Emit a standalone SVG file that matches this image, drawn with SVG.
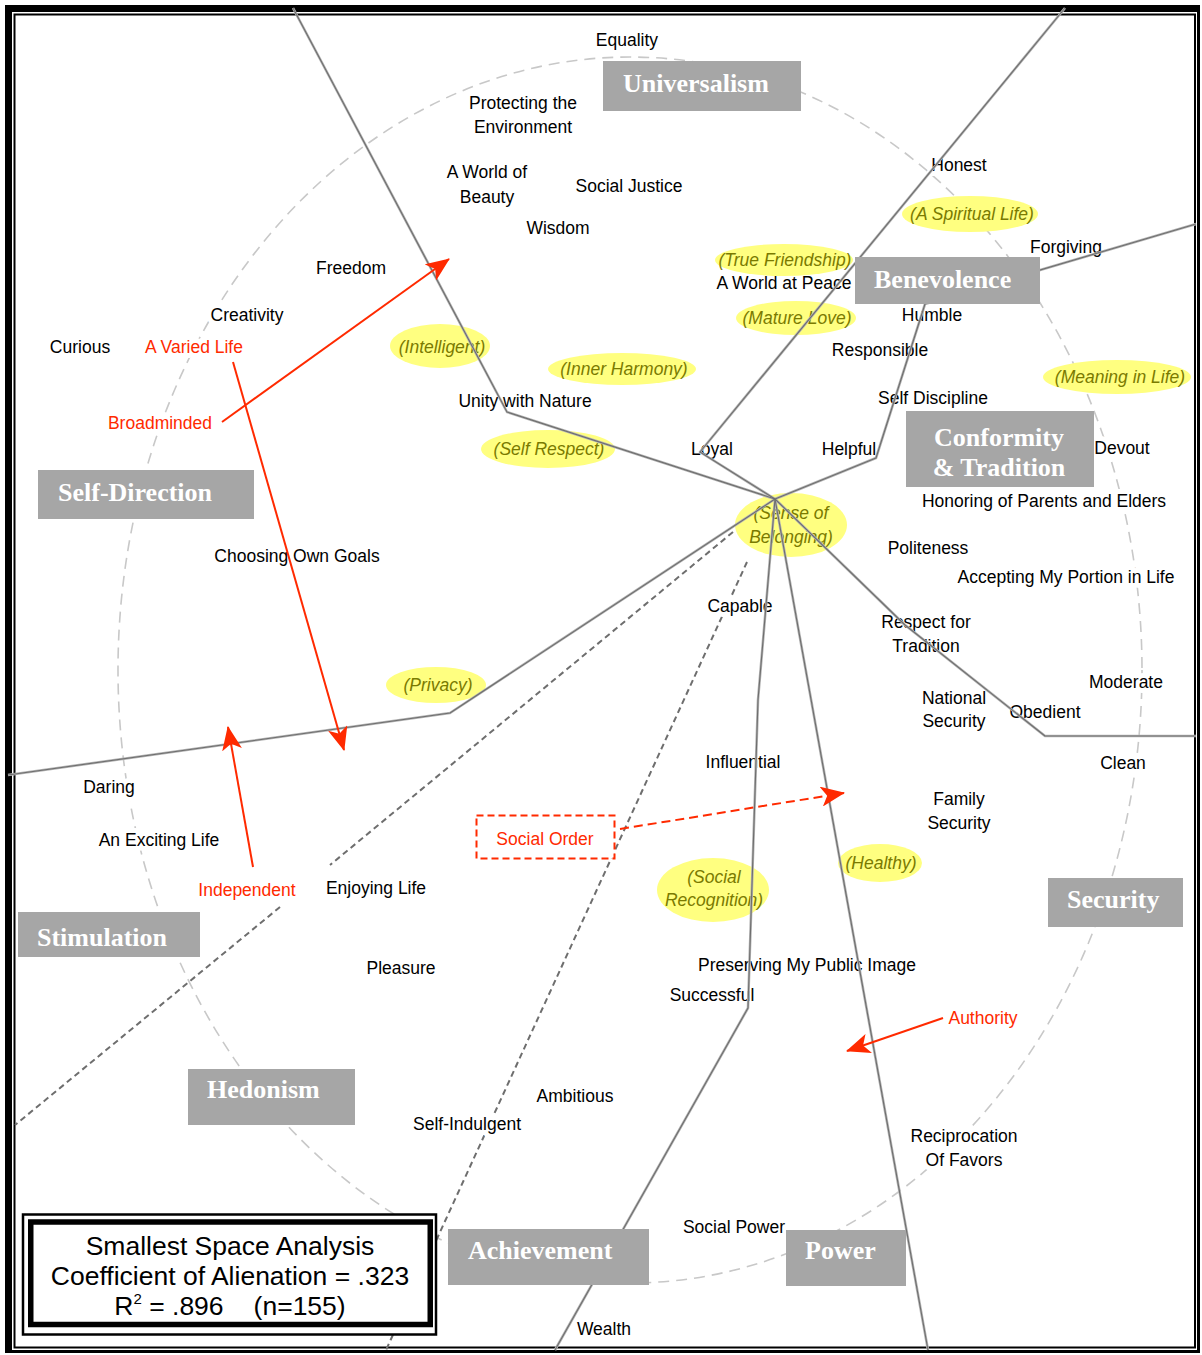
<svg xmlns="http://www.w3.org/2000/svg" width="1202" height="1355" viewBox="0 0 1202 1355">
  <style>
    .lbl { font-family: "Liberation Sans", Arial, sans-serif; font-size: 17.5px; fill: #000; text-anchor: middle; stroke: #fff; stroke-width: 10px; stroke-linejoin: round; paint-order: stroke; }
    .red { fill: #ff2a00; }
    .cat rect { fill: #a6a6a6; }
    .cat text { font-family: "Liberation Serif", "Times New Roman", serif; font-weight: bold; font-size: 26px; fill: #fff; }
    .val ellipse { fill: #ffff80; }
    .val text { font-family: "Liberation Sans", Arial, sans-serif; font-size: 17.5px; font-style: italic; fill: #7a7a00; text-anchor: middle; }
    .part { fill: none; stroke: #b4b4b4; stroke-width: 2.6; stroke-linejoin: round; }
    .part-core { fill: none; stroke: #6e6e6e; stroke-width: 1.1; stroke-linejoin: round; }
    .dpart { fill: none; stroke: #6e6e6e; stroke-width: 2; stroke-dasharray: 6 4; }
    .arrow { fill: none; stroke: #ff2a00; stroke-width: 2; }
    .stats { font-family: "Liberation Sans", Arial, sans-serif; font-size: 26.5px; fill: #000; text-anchor: middle; }
  </style>
  <defs>
    <marker id="head" viewBox="0 0 24 20" markerWidth="24" markerHeight="20" refX="23" refY="10" orient="auto" markerUnits="userSpaceOnUse">
      <path d="M0,0 L24,10 L0,20 L6,10 z" fill="#ff2a00"/>
    </marker>
    <!-- partition line geometry, drawn twice for a shaded edge -->
    <path id="pA" d="M293,8 L507,412 L775,499"/>
    <path id="pB" d="M1065,8 L700,452 L775,499"/>
    <path id="pC" d="M1196,224 L925,304 L876,458 L775,499"/>
    <path id="pD" d="M775,499 L905,625 L1045,736 L1196,736"/>
    <path id="pE" d="M775,499 L928,1350"/>
    <path id="pF" d="M775,499 L758,700 L748,1008 L555,1350"/>
    <path id="pG" d="M775,499 L450,713 L8,775"/>
  </defs>

  <rect x="0" y="0" width="1202" height="1355" fill="#fff"/>

  <!-- frame -->
  <g id="frame">
    <rect x="5" y="5" width="1195" height="7" fill="#000"/>
    <rect x="5" y="5" width="7" height="1348" fill="#000"/>
    <rect x="1197" y="5" width="3" height="1348" fill="#000"/>
    <rect x="5" y="1350" width="1195" height="3" fill="#000"/>
    <rect x="14.5" y="14.5" width="1180.5" height="1333" fill="none" stroke="#000" stroke-width="2"/>
  </g>

  <!-- value circle -->
  <ellipse id="circle" cx="630" cy="670" rx="512" ry="613" fill="none" stroke="#c8c8c8" stroke-width="1.6" stroke-dasharray="11 7"/>

  <!-- dashed partitions -->
  <g id="dashed-partitions">
    <path class="dpart" d="M733,532 L330,865 M280,907 L15,1125"/>
    <path class="dpart" d="M747,562 L386,1350"/>
  </g>

  <!-- value labels -->
  <g id="labels">
    <g id="equality"><text class="lbl" x="627" y="46">Equality</text></g>
    <g id="protecting-env"><text class="lbl" x="523" y="109">Protecting the</text><text class="lbl" x="523" y="133">Environment</text></g>
    <g id="world-of-beauty"><text class="lbl" x="487" y="178">A World of</text><text class="lbl" x="487" y="203">Beauty</text></g>
    <g id="social-justice"><text class="lbl" x="629" y="192">Social Justice</text></g>
    <g id="wisdom"><text class="lbl" x="558" y="234">Wisdom</text></g>
    <g id="honest"><text class="lbl" x="959" y="171">Honest</text></g>
    <g id="forgiving"><text class="lbl" x="1066" y="253">Forgiving</text></g>
    <g id="freedom"><text class="lbl" x="351" y="274">Freedom</text></g>
    <g id="world-at-peace"><text class="lbl" x="784" y="289">A World at Peace</text></g>
    <g id="humble"><text class="lbl" x="932" y="321">Humble</text></g>
    <g id="creativity"><text class="lbl" x="247" y="321">Creativity</text></g>
    <g id="curious"><text class="lbl" x="80" y="353">Curious</text></g>
    <g id="responsible"><text class="lbl" x="880" y="356">Responsible</text></g>
    <g id="unity-nature"><text class="lbl" x="525" y="407">Unity with Nature</text></g>
    <g id="self-discipline"><text class="lbl" x="933" y="404">Self Discipline</text></g>
    <g id="devout"><text class="lbl" x="1122" y="454">Devout</text></g>
    <g id="loyal"><text class="lbl" x="712" y="455">Loyal</text></g>
    <g id="helpful"><text class="lbl" x="849" y="455">Helpful</text></g>
    <g id="honoring"><text class="lbl" x="1044" y="507">Honoring of Parents and Elders</text></g>
    <g id="politeness"><text class="lbl" x="928" y="554">Politeness</text></g>
    <g id="own-goals"><text class="lbl" x="297" y="562">Choosing Own Goals</text></g>
    <g id="portion"><text class="lbl" x="1066" y="583">Accepting My Portion in Life</text></g>
    <g id="capable"><text class="lbl" x="740" y="612">Capable</text></g>
    <g id="respect-tradition"><text class="lbl" x="926" y="628">Respect for</text><text class="lbl" x="926" y="652">Tradition</text></g>
    <g id="moderate"><text class="lbl" x="1126" y="688">Moderate</text></g>
    <g id="national-security"><text class="lbl" x="954" y="704">National</text><text class="lbl" x="954" y="727">Security</text></g>
    <g id="obedient"><text class="lbl" x="1045" y="718">Obedient</text></g>
    <g id="influential"><text class="lbl" x="743" y="768">Influential</text></g>
    <g id="clean"><text class="lbl" x="1123" y="769">Clean</text></g>
    <g id="daring"><text class="lbl" x="109" y="793">Daring</text></g>
    <g id="family-security"><text class="lbl" x="959" y="805">Family</text><text class="lbl" x="959" y="829">Security</text></g>
    <g id="exciting-life"><text class="lbl" x="159" y="846">An Exciting Life</text></g>
    <g id="enjoying-life"><text class="lbl" x="376" y="894">Enjoying Life</text></g>
    <g id="public-image"><text class="lbl" x="807" y="971">Preserving My Public Image</text></g>
    <g id="pleasure"><text class="lbl" x="401" y="974">Pleasure</text></g>
    <g id="successful"><text class="lbl" x="712" y="1001">Successful</text></g>
    <g id="ambitious"><text class="lbl" x="575" y="1102">Ambitious</text></g>
    <g id="self-indulgent"><text class="lbl" x="467" y="1130">Self-Indulgent</text></g>
    <g id="reciprocation"><text class="lbl" x="964" y="1142">Reciprocation</text><text class="lbl" x="964" y="1166">Of Favors</text></g>
    <g id="social-power"><text class="lbl" x="734" y="1233">Social Power</text></g>
    <g id="wealth"><text class="lbl" x="604" y="1335">Wealth</text></g>

    <g id="varied-life"><text class="lbl red" x="194" y="353">A Varied Life</text></g>
    <g id="broadminded"><text class="lbl red" x="160" y="429">Broadminded</text></g>
    <g id="independent"><text class="lbl red" x="247" y="896">Independent</text></g>
    <g id="authority"><text class="lbl red" x="983" y="1024">Authority</text></g>
  </g>

  <!-- highlighted values -->
  <g id="highlights">
    <g id="spiritual-life" class="val"><ellipse cx="970" cy="214" rx="68" ry="18"/><text x="972" y="220">(A Spiritual Life)</text></g>
    <g id="true-friendship" class="val"><ellipse cx="784" cy="260" rx="69" ry="16"/><text x="785" y="266">(True Friendship)</text></g>
    <g id="mature-love" class="val"><ellipse cx="796" cy="318" rx="60" ry="17"/><text x="797" y="324">(Mature Love)</text></g>
    <g id="meaning-in-life" class="val"><ellipse cx="1117" cy="377" rx="74" ry="17"/><text x="1120" y="383">(Meaning in Life)</text></g>
    <g id="inner-harmony" class="val"><ellipse cx="622" cy="369" rx="74" ry="16"/><text x="624" y="375">(Inner Harmony)</text></g>
    <g id="intelligent" class="val"><ellipse cx="440" cy="346" rx="50" ry="22"/><text x="442" y="353">(Intelligent)</text></g>
    <g id="self-respect" class="val"><ellipse cx="548" cy="449" rx="67" ry="19"/><text x="549" y="455">(Self Respect)</text></g>
    <g id="sense-of-belonging" class="val"><ellipse cx="791" cy="525" rx="56" ry="32"/><text x="791" y="519">(Sense of</text><text x="791" y="543">Belonging)</text></g>
    <g id="privacy" class="val"><ellipse cx="436" cy="685" rx="50" ry="18"/><text x="438" y="691">(Privacy)</text></g>
    <g id="social-recognition" class="val"><ellipse cx="713" cy="890" rx="56" ry="32"/><text x="714" y="883">(Social</text><text x="714" y="906">Recognition)</text></g>
    <g id="healthy" class="val"><ellipse cx="880" cy="863" rx="42" ry="19"/><text x="881" y="869">(Healthy)</text></g>
  </g>

  <!-- region partitions -->
  <g id="partitions">
    <g class="part">
      <use href="#pA"/><use href="#pB"/><use href="#pC"/><use href="#pD"/><use href="#pE"/><use href="#pF"/><use href="#pG"/>
    </g>
    <g class="part-core">
      <use href="#pA"/><use href="#pB"/><use href="#pC"/><use href="#pD"/><use href="#pE"/><use href="#pF"/><use href="#pG"/>
    </g>
  </g>

  <!-- value type regions -->
  <g id="regions">
    <g id="universalism" class="cat"><rect x="603" y="61" width="198" height="50"/><text x="623" y="92">Universalism</text></g>
    <g id="benevolence" class="cat"><rect x="855" y="257" width="185" height="47"/><text x="874" y="288">Benevolence</text></g>
    <g id="conformity-tradition" class="cat"><rect x="906" y="411" width="188" height="76"/><text x="999" y="446" text-anchor="middle">Conformity</text><text x="999" y="476" text-anchor="middle">&amp; Tradition</text></g>
    <g id="self-direction" class="cat"><rect x="38" y="470" width="216" height="49"/><text x="58" y="501">Self-Direction</text></g>
    <g id="stimulation" class="cat"><rect x="18" y="912" width="182" height="45"/><text x="37" y="946">Stimulation</text></g>
    <g id="hedonism" class="cat"><rect x="188" y="1069" width="167" height="56"/><text x="207" y="1098">Hedonism</text></g>
    <g id="achievement" class="cat"><rect x="448" y="1229" width="201" height="56"/><text x="468" y="1259">Achievement</text></g>
    <g id="power" class="cat"><rect x="786" y="1230" width="120" height="56"/><text x="805" y="1259">Power</text></g>
    <g id="security" class="cat"><rect x="1048" y="878" width="135" height="49"/><text x="1067" y="908">Security</text></g>
  </g>

  <!-- shift arrows -->
  <g id="arrows">
    <path class="arrow" d="M222,422 L449,259" marker-end="url(#head)"/>
    <path class="arrow" d="M233,362 L344,750" marker-end="url(#head)"/>
    <path class="arrow" d="M253,867 L228,727" marker-end="url(#head)"/>
    <path class="arrow" d="M620,829 L844,793" stroke-dasharray="9 5" marker-end="url(#head)"/>
    <path class="arrow" d="M943,1018 L847,1051" marker-end="url(#head)"/>
  </g>

  <g id="social-order">
    <rect x="476.5" y="815.5" width="138" height="43" fill="#fff" stroke="#ff2a00" stroke-width="2" stroke-dasharray="7 4"/>
    <text class="lbl red" x="545" y="845" style="stroke:none">Social Order</text>
  </g>

  <!-- fit statistics -->
  <g id="fit-stats">
    <rect x="23" y="1214.5" width="413" height="120" fill="#fff" stroke="#000" stroke-width="2.5"/>
    <rect x="30.75" y="1222" width="399.5" height="102.5" fill="none" stroke="#000" stroke-width="5.5"/>
    <text class="stats" x="230" y="1255">Smallest Space Analysis</text>
    <text class="stats" x="230" y="1285">Coefficient of Alienation = .323</text>
    <text class="stats" x="230" y="1315">R<tspan font-size="15" dy="-11">2</tspan><tspan dy="11"> = .896</tspan><tspan dx="30">(n=155)</tspan></text>
  </g>
</svg>
